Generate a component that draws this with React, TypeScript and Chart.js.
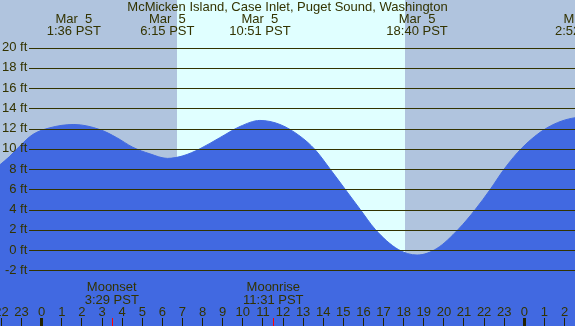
import React, { useEffect, useRef } from 'react';
import { Chart, registerables } from 'chart.js';

Chart.register(...registerables);

const TITLE = 'McMicken Island, Case Inlet, Puget Sound, Washington';

// tide curve (hours from midnight Mar 5, feet)
const tideHours = [-2.6, -2.09, -1.59, -1.1, -0.45, 0.4, 1.6, 2.89, 3.73, 4.53, 5.38, 6.25, 7.02, 7.87, 8.86, 9.86, 10.85, 11.85, 12.85, 13.6, 14.34, 15.09, 15.84, 16.58, 17.73, 18.67, 19.65, 20.72, 21.56, 22.31, 23.0, 23.89, 25.13, 26.54, 26.87, 27.5];
const tideHeights = [7.6, 8.4, 9.25, 10.25, 11.4, 12.07, 12.4, 11.9, 11.1, 10.15, 9.5, 9.05, 9.3, 10.0, 11.1, 12.2, 12.8, 12.4, 11.24, 9.9, 8.0, 6.0, 4.0, 2.05, 0.05, -0.5, 0.15, 2.05, 4.0, 6.0, 8.0, 10.1, 12.07, 13.07, 13.1, 12.9];

const yTickValues = [-2, 0, 2, 4, 6, 8, 10, 12, 14, 16, 18, 20];
const hourTickValues = [-2, -1, 0, 1, 2, 3, 4, 5, 6, 7, 8, 9, 10, 11, 12, 13, 14, 15, 16, 17, 18, 19, 20, 21, 22, 23, 24, 25, 26];

const extremeHours = [1.6, 6.25, 10.85, 18.667, 26.87];
const extremeDates = ['Mar  5', 'Mar  5', 'Mar  5', 'Mar  5', 'Mar  6'];
const extremeTimes = ['1:36 PST', '6:15 PST', '10:51 PST', '18:40 PST', '2:52 PST'];

const sunriseHour = 6.73;
const sunsetHour = 18.06;

const moonNames = ['Moonset', 'Moonrise'];
const moonTimes = ['3:29 PST', '11:31 PST'];
const moonHours = [3.483, 11.517];

const X_MIN = -2.074;
const X_MAX = 26.52;
const Y_MIN = -6.72;
const Y_MAX = 24.7;

const FONT = "'Liberation Sans', Arial, sans-serif";
const TEXT = '#333300';
const NIGHT = '#b0c4de';
const DAY = '#e0ffff';
const WATER = '#4169e1';

const bgPlugin = {
  id: 'tideBackground',
  beforeDraw(chart: any) {
    const { ctx, chartArea } = chart;
    const xs = chart.scales.x;
    ctx.save();
    ctx.fillStyle = WATER;
    ctx.fillRect(0, 0, chart.width, chart.height);
    const sx = Math.round(xs.getPixelForValue(sunriseHour));
    const ex = Math.round(xs.getPixelForValue(sunsetHour));
    ctx.fillStyle = NIGHT;
    ctx.fillRect(0, 0, sx, chartArea.bottom);
    ctx.fillRect(ex, 0, chart.width - ex, chartArea.bottom);
    ctx.fillStyle = DAY;
    ctx.fillRect(sx, 0, ex - sx, chartArea.bottom);
    ctx.restore();
  },
  afterDatasetsDraw(chart: any) {
    const { ctx, chartArea } = chart;
    const ys = chart.scales.y;
    ctx.save();
    ctx.strokeStyle = TEXT;
    ctx.lineWidth = 1;
    for (const v of yTickValues) {
      const py = Math.round(ys.getPixelForValue(v)) + 0.5;
      ctx.beginPath();
      ctx.moveTo(29, py);
      ctx.lineTo(chartArea.right, py);
      ctx.stroke();
    }
    ctx.restore();
  },
  afterDraw(chart: any) {
    const { ctx, chartArea } = chart;
    const xs = chart.scales.x;
    ctx.save();
    ctx.fillStyle = TEXT;
    ctx.font = `13px ${FONT}`;
    ctx.textAlign = 'center';
    ctx.textBaseline = 'middle';
    ctx.fillText(TITLE, (chartArea.left + chartArea.right) / 2, 7.5);
    extremeHours.forEach((h, i) => {
      const px = xs.getPixelForValue(h);
      ctx.fillText(extremeDates[i], px, 19.5);
      ctx.fillText(extremeTimes[i], px, 31.7);
    });
    moonHours.forEach((h, i) => {
      const px = xs.getPixelForValue(h);
      ctx.fillText(moonNames[i], px, 287.2);
      ctx.fillText(moonTimes[i], px, 300);
      ctx.strokeStyle = '#ff0000';
      ctx.lineWidth = 1;
      const tx = Math.round(px) + 0.5;
      ctx.beginPath();
      ctx.moveTo(tx, chartArea.bottom);
      ctx.lineTo(tx, chart.height);
      ctx.stroke();
    });
    ctx.restore();
  },
};

export default function App() {
  const ref = useRef<HTMLCanvasElement | null>(null);

  useEffect(() => {
    document.body.style.margin = '0';
    const canvas = ref.current;
    if (!canvas) return;
    const chart = new Chart(canvas, {
      type: 'line',
      data: {
        datasets: [
          {
            data: tideHours.map((h, i) => ({ x: h, y: tideHeights[i] })),
            fill: 'start',
            backgroundColor: WATER,
            borderColor: WATER,
            borderWidth: 1,
            pointRadius: 0,
            cubicInterpolationMode: 'monotone',
          },
        ],
      },
      options: {
        animation: false,
        responsive: false,
        events: [],
        layout: { padding: 0 },
        plugins: {
          legend: { display: false },
          tooltip: { enabled: false },
          title: { display: false },
        },
        scales: {
          x: {
            type: 'linear',
            position: 'bottom',
            min: X_MIN,
            max: X_MAX,
            border: { display: false },
            afterBuildTicks: (scale: any) => {
              scale.ticks = hourTickValues.map((v) => ({ value: v }));
            },
            afterFit: (scale: any) => {
              scale.height = 8;
              scale.paddingLeft = 0;
              scale.paddingRight = 0;
              scale.paddingTop = 0;
              scale.paddingBottom = 0;
            },
            grid: {
              z: 1,
              drawOnChartArea: false,
              drawTicks: true,
              tickLength: 8,
              color: '#222200',
              lineWidth: (c: any) => (c.tick && ((c.tick.value % 24) + 24) % 24 === 0 ? 3 : 1),
            },
            ticks: {
              z: 1,
              mirror: true,
              padding: -2,
              autoSkip: false,
              maxRotation: 0,
              minRotation: 0,
              color: TEXT,
              font: { family: FONT, size: 13 },
              callback: (v: any) => String(((Number(v) % 24) + 24) % 24),
            },
          },
          y: {
            type: 'linear',
            position: 'left',
            min: Y_MIN,
            max: Y_MAX,
            border: { display: false },
            grid: { display: false, drawTicks: false },
            afterBuildTicks: (scale: any) => {
              scale.ticks = yTickValues.map((v) => ({ value: v }));
            },
            afterFit: (scale: any) => {
              scale.width = 0;
              scale.paddingLeft = 0;
              scale.paddingRight = 0;
              scale.paddingTop = 0;
              scale.paddingBottom = 0;
            },
            ticks: {
              z: 1,
              mirror: true,
              crossAlign: 'far',
              padding: 2,
              color: TEXT,
              font: { family: FONT, size: 13 },
              callback: (v: any) => `${v} ft`,
            },
          },
        },
      },
      plugins: [bgPlugin],
    } as any);
    return () => chart.destroy();
  }, []);

  return (
    <div style={{ position: 'fixed', left: 0, top: 0, width: 575, height: 326 }}>
      <canvas ref={ref} width={575} height={326} style={{ display: 'block' }} />
    </div>
  );
}
